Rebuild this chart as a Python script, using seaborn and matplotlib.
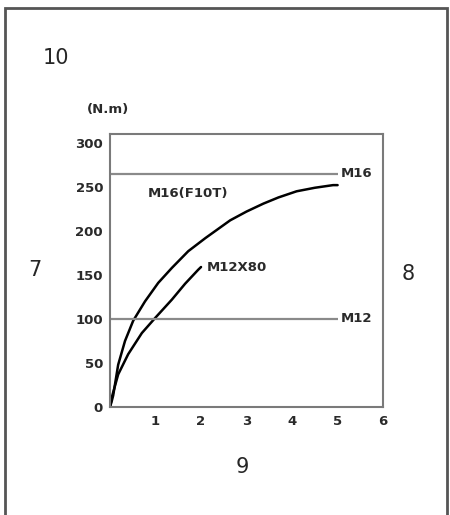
# Curvas de par de apriete (N.m) para M16(F10T) y M12X80, con límites M16 y M12

import seaborn as sns
import matplotlib.pyplot as plt
import matplotlib.patches as mpatches
import pandas as pd

# Datos
x_m16f = [0, 0.03, 0.07, 0.18, 0.33, 0.51, 0.77, 1.06, 1.36, 1.72, 2.1, 2.64, 3.0, 3.37, 3.7, 4.1, 4.5, 4.9, 5.0]
y_m16f = [0, 5, 13, 48, 75, 98, 120, 141, 158, 177, 192, 212, 222, 231, 238, 245, 249, 252, 252]
x_m12x80 = [0, 0.02, 0.04, 0.18, 0.40, 0.70, 0.99, 1.36, 1.65, 1.94, 2.0]
y_m12x80 = [0, 5, 11, 37, 60, 84, 101, 122, 140, 156, 159]
limite_m16 = 265
limite_m12 = 100
x_ticks = [1, 2, 3, 4, 5, 6]
y_ticks = [0, 50, 100, 150, 200, 250, 300]

df = pd.concat([
    pd.DataFrame({"x": x_m16f, "y": y_m16f, "serie": "M16(F10T)"}),
    pd.DataFrame({"x": x_m12x80, "y": y_m12x80, "serie": "M12X80"}),
])

sns.set_style("white")
plt.rcParams["font.family"] = ["DejaVu Sans"]

fig = plt.figure(figsize=(4.5, 5.15), dpi=100)
ax = fig.add_axes([0.2444, 0.2097, 0.607, 0.530])

sns.lineplot(data=df, x="x", y="y", units="serie", estimator=None,
             color="black", linewidth=1.8, sort=False, ax=ax)

ax.hlines([limite_m16, limite_m12], 0, 5, color="#8a8a8a", linewidth=1.6)

ax.set_xlim(0, 6)
ax.set_ylim(0, 310)
ax.set_xticks(x_ticks)
ax.set_yticks(y_ticks)
ax.set_xticklabels([str(t) for t in x_ticks], fontweight="bold")
ax.set_yticklabels([str(t) for t in y_ticks], fontweight="bold")
ax.tick_params(direction="in", length=4, color="#bbbbbb", labelsize=9.5,
               labelcolor="#2a2a2a")
ax.tick_params(axis="x", pad=6)
ax.tick_params(axis="y", pad=5)
for s in ax.spines.values():
    s.set_color("#7a7a7a")
    s.set_linewidth(1.5)
ax.set_xlabel("")
ax.set_ylabel("")

estilo = dict(fontsize=9.5, fontweight="bold", va="center", color="#2a2a2a")
ax.text(5.08, limite_m16, "M16", **estilo)
ax.text(5.08, limite_m12, "M12", **estilo)
ax.text(0.83, 243, "M16(F10T)", **estilo)
ax.text(2.12, 159, "M12X80", **estilo)

fig.text(56 / 450, 1 - 58 / 515, "10", fontsize=15, ha="center", va="center")
fig.text(108 / 450, 1 - 110 / 515, "(N.m)", fontsize=9.5, ha="center", va="center",
         fontweight="bold", color="#2a2a2a")
fig.text(35 / 450, 1 - 270 / 515, "7", fontsize=15, ha="center", va="center")
fig.text(408 / 450, 1 - 274 / 515, "8", fontsize=15, ha="center", va="center")
fig.text(242 / 450, 1 - 467 / 515, "9", fontsize=15, ha="center", va="center")

marco = mpatches.Rectangle((5 / 450, -0.02), 442 / 450, 1 - 8 / 515 + 0.02,
                           transform=fig.transFigure, fill=False,
                           edgecolor="#555555", linewidth=2)
fig.patches.append(marco)

fig.savefig("out.png", dpi=100)
